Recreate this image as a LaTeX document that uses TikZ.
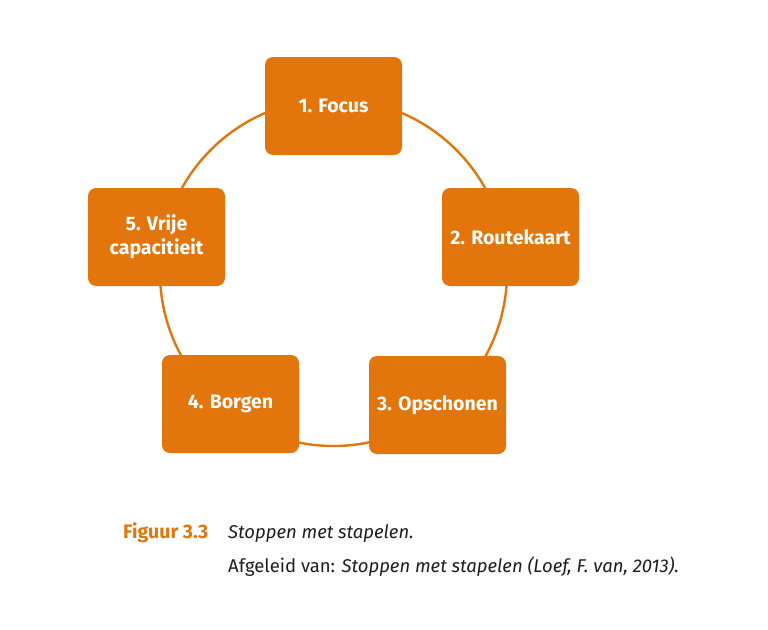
\documentclass[tikz,border=0pt]{standalone}
\usepackage{fontspec}
\setmainfont{Fira Sans}
\definecolor{boxorange}{RGB}{226,117,11}
\definecolor{capgray}{RGB}{30,30,30}
\begin{document}
\begin{tikzpicture}[x=1pt,y=-1pt,
  stepbox/.style={draw=none,fill=boxorange,rounded corners=8pt,minimum width=137pt,minimum height=98pt,
    text=white,font=\fontsize{19.5}{24}\selectfont\bfseries,align=center,inner sep=0pt},
  ring/.style={draw=boxorange,line width=2.4pt},
  captxt/.style={anchor=base west,inner sep=0pt,text=capgray,font=\fontsize{18.5}{23}\selectfont}]
\useasboundingbox (0,0) rectangle (768,629);
\draw[ring] (333.5,272.5) circle (173.5);
\node[stepbox] (s1) at (333.5,106) {1. Focus};
\node[stepbox] (s2) at (510.5,237) {2. Routekaart};
\node[stepbox] (s3) at (437.5,405) {3. Opschonen};
\node[stepbox] (s4) at (230.5,404) {4. Borgen};
\node[stepbox] (s5) at (156.5,237) {5. Vrije\\capacitieit};
\node[captxt,text=boxorange,font=\fontsize{19.5}{24}\selectfont\bfseries] (fig) at (123,538) {Figuur 3.3};
\node[captxt] (c1) at (228,538) {\itshape Stoppen met stapelen.};
\node[captxt] (c2) at (228,572) {Afgeleid van: \itshape Stoppen met stapelen (Loef, F. van, 2013).};
\end{tikzpicture}
\end{document}
